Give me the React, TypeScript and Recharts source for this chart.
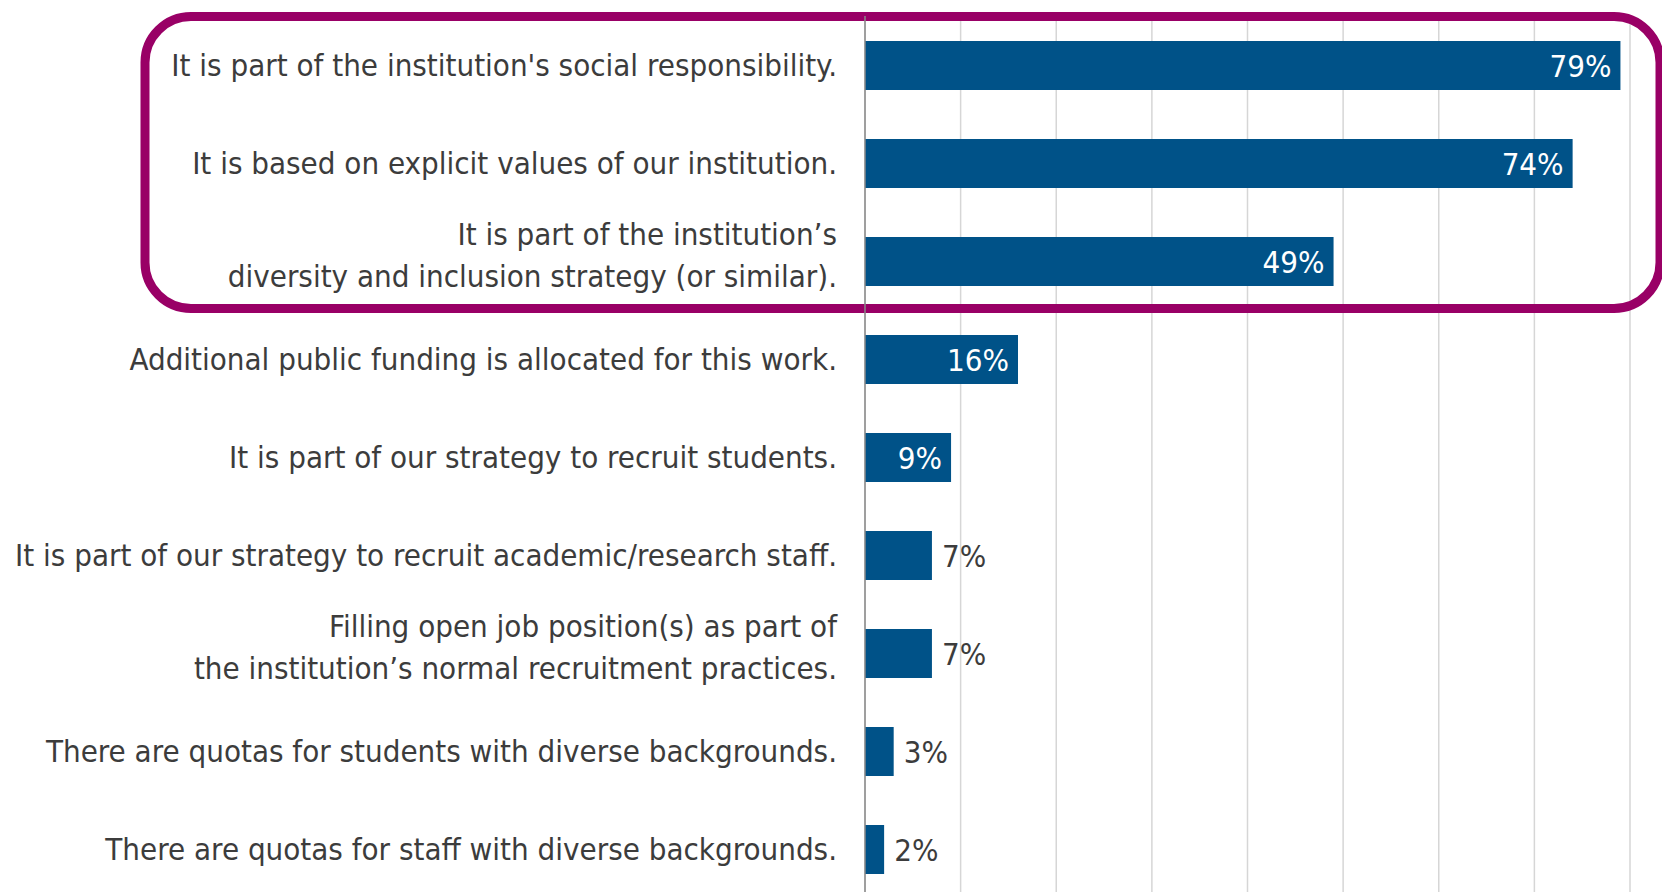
import React from 'react';
import { BarChart, Bar, XAxis, YAxis, CartesianGrid, LabelList, ReferenceArea } from 'recharts';

const categories = [
  "It is part of the institution's social responsibility.",
  'It is based on explicit values of our institution.',
  'It is part of the institution\u2019s\ndiversity and inclusion strategy (or similar).',
  'Additional public funding is allocated for this work.',
  'It is part of our strategy to recruit students.',
  'It is part of our strategy to recruit academic/research staff.',
  'Filling open job position(s) as part of\nthe institution\u2019s normal recruitment practices.',
  'There are quotas for students with diverse backgrounds.',
  'There are quotas for staff with diverse backgrounds.',
];
const shares = [79, 74, 49, 16, 9, 7, 7, 3, 2];
const xTicks = [0, 10, 20, 30, 40, 50, 60, 70, 80];
const highlightFrom = categories[0];
const highlightTo = categories[2];

const data = categories.map((category, i) => ({ category, share: shares[i] }));

const FONT = '"DejaVu Sans Condensed", "Liberation Sans Narrow", "Noto Sans", sans-serif';
const TEXT = '#3c3c3c';
const BLUE = '#005288';
const PURPLE = '#990066';

function CategoryTick(props: any) {
  const { x, y, payload } = props;
  const lines = String(payload.value).split('\n');
  const lh = 42;
  const startDy = lines.length === 1 ? 0 : -((lines.length - 1) * lh) / 2 - 6;
  return (
    <text x={x} y={y} textAnchor="end" fill={TEXT} fontSize={31} fontFamily={FONT} dominantBaseline="central">
      {lines.map((l, i) => (
        <tspan key={i} x={x} dy={i === 0 ? startDy : lh}>
          {l}
        </tspan>
      ))}
    </text>
  );
}

function ValueLabel(props: any) {
  const x = Number(props.x);
  const y = Number(props.y);
  const width = Number(props.width);
  const height = Number(props.height);
  const value = Number(props.value);
  const inside = value >= 9;
  const tx = inside ? x + width - 9 : x + width + 10;
  return (
    <text
      x={tx}
      y={y + height / 2}
      textAnchor={inside ? 'end' : 'start'}
      dominantBaseline="central"
      fill={inside ? '#ffffff' : TEXT}
      fontSize={31}
      fontFamily={FONT}
    >
      {value}%
    </text>
  );
}

function HighlightBox(props: any) {
  const y = Number(props.y);
  const h = Number(props.height);
  const left = 145;
  const right = 1660;
  return (
    <rect
      x={left}
      y={y + 0.5}
      width={right - left}
      height={h - 2}
      rx={46}
      ry={46}
      fill="none"
      stroke={PURPLE}
      strokeWidth={9}
    />
  );
}

export default function App() {
  return (
    <div style={{ position: 'absolute', left: 0, top: 0, width: 1662, height: 892, overflow: 'hidden', background: '#fff' }}>
      <BarChart
        layout="vertical"
        width={1662}
        height={900}
        data={data}
        margin={{ top: 16, right: 32, bottom: 2, left: 0 }}
      >
        <CartesianGrid horizontal={false} stroke="#d6d6d6" strokeWidth={1.5} />
        <XAxis type="number" domain={[0, 80]} ticks={xTicks} hide />
        <YAxis
          type="category"
          dataKey="category"
          width={865}
          axisLine={{ stroke: '#8a8a8a', strokeWidth: 1.5 }}
          tickLine={false}
          tickSize={0}
          tickMargin={28}
          interval={0}
          tick={<CategoryTick />}
        />
        <Bar dataKey="share" fill={BLUE} barSize={49} isAnimationActive={false}>
          <LabelList dataKey="share" content={<ValueLabel />} />
        </Bar>
        <ReferenceArea y1={highlightFrom} y2={highlightTo} ifOverflow="visible" shape={<HighlightBox />} />
      </BarChart>
    </div>
  );
}
